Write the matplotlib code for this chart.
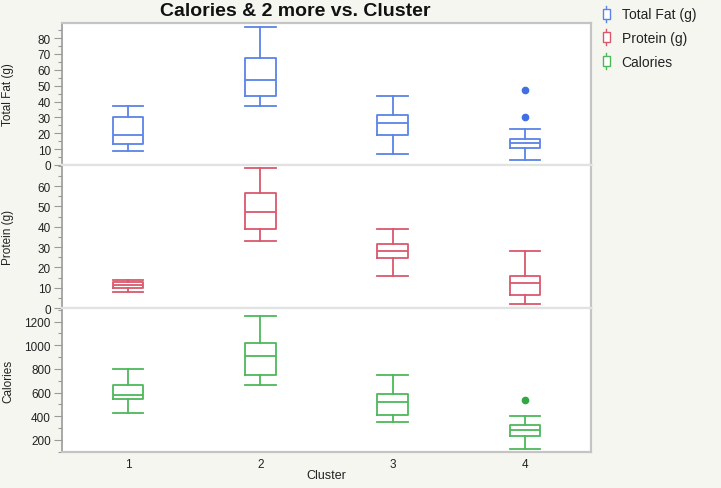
import matplotlib
matplotlib.use("Agg")
import matplotlib.pyplot as plt
from matplotlib.lines import Line2D
from matplotlib.patches import Rectangle
from matplotlib.legend_handler import HandlerBase
from matplotlib.ticker import MultipleLocator

plt.rcParams['font.family'] = ['Liberation Sans', 'DejaVu Sans']

clusters = [1, 2, 3, 4]

# five-number summaries: low whisker, q1, median, q3, high whisker
fat_low = [8.8, 36.9, 6.9, 3.4]
fat_q1 = [13.0, 43.8, 18.8, 11.0]
fat_med = [18.8, 53.7, 26.5, 14.1]
fat_q3 = [30.5, 67.5, 31.2, 16.7]
fat_high = [37.5, 87.0, 43.8, 23.0]
fat_out = [[], [], [], [47.3, 30.1]]

prot_low = [7.8, 33.0, 15.6, 2.0]
prot_q1 = [9.7, 38.9, 24.8, 6.4]
prot_med = [11.5, 47.1, 28.1, 12.3]
prot_q3 = [13.0, 56.8, 31.4, 15.6]
prot_high = [13.9, 68.8, 38.9, 28.1]
prot_out = [[], [], [], []]

cal_low = [424, 666, 347, 124]
cal_q1 = [545, 751, 412, 229]
cal_med = [581, 909, 517, 282]
cal_q3 = [664, 1022, 590, 327]
cal_high = [797, 1248, 751, 403]
cal_out = [[], [], [], [534]]

names = ["Total Fat (g)", "Protein (g)", "Calories"]
colors = ["#5b84e6", "#d9586c", "#4db85a"]
dot_colors = ["#3f6fe0", "#d9586c", "#2fa844"]


def stats(lo, q1, med, q3, hi, out):
    return [dict(whislo=a, q1=b, med=c, q3=d, whishi=e, fliers=f)
            for a, b, c, d, e, f in zip(lo, q1, med, q3, hi, out)]


# stats, y-limits, labelled ticks, minor step
panels = [
    (stats(fat_low, fat_q1, fat_med, fat_q3, fat_high, fat_out), (0, 89.5), range(0, 90, 10), 5),
    (stats(prot_low, prot_q1, prot_med, prot_q3, prot_high, prot_out), (0, 70.4), range(0, 70, 10), 5),
    (stats(cal_low, cal_q1, cal_med, cal_q3, cal_high, cal_out), (96, 1316), range(200, 1300, 200), 100),
]

W, H = 721, 489
fig = plt.figure(figsize=(W / 100, H / 100), dpi=100, facecolor="#f6f6f1")

left, right = 62, 591
edges = [24, 166, 309, 453]
for i, (st, ylim, major, minor) in enumerate(panels):
    top, bot = edges[i], edges[i + 1]
    ax = fig.add_axes([left / W, 1 - bot / H, (right - left) / W, (bot - top) / H])
    c = colors[i]
    ax.bxp(st, positions=clusters, widths=0.23, capwidths=0.23, showfliers=True,
           boxprops=dict(color=c, lw=1.3),
           whiskerprops=dict(color=c, lw=1.3),
           capprops=dict(color=c, lw=1.3),
           medianprops=dict(color=c, lw=1.3),
           flierprops=dict(marker="o", markersize=4.5, markerfacecolor=dot_colors[i],
                           markeredgecolor=dot_colors[i], linestyle="none"))
    ax.set_xlim(0.5, 4.5)
    ax.set_ylim(*ylim)
    ax.set_yticks(list(major))
    ax.yaxis.set_minor_locator(MultipleLocator(minor))
    ax.tick_params(axis="y", which="major", length=6, width=0.8, color="#9a9a9a",
                   labelsize=8.5, labelcolor="#222222", pad=2)
    ax.tick_params(axis="y", which="minor", length=3, width=0.8, color="#9a9a9a")
    for s in ["top", "right", "bottom"]:
        ax.spines[s].set_color("#e2e2e2")
        ax.spines[s].set_linewidth(1.6)
    ax.spines["right"].set_color("#c4c4c4")
    ax.spines["left"].set_color("#9a9a9a")
    ax.spines["left"].set_linewidth(1.2)
    if i == 0:
        ax.spines["top"].set_color("#c4c4c4")
    if i < 2:
        ax.set_xticks([])
    else:
        ax.set_xticks(clusters)
        ax.tick_params(axis="x", length=0, labelsize=8.5, labelcolor="#222222", pad=4)
        ax.spines["bottom"].set_color("#c4c4c4")
    fig.text(8 / W, 1 - (top + bot) / 2 / H, names[i], rotation=90,
             ha="center", va="center", fontsize=8.5, color="#222222")

fig.text(326 / W, 1 - 476 / H, "Cluster", ha="center", va="center",
         fontsize=9, color="#222222")
fig.text(295 / W, 1 - 12 / H, "Calories & 2 more vs. Cluster", ha="center",
         va="center", fontsize=14, fontweight="bold", color="#111111")


class BoxGlyph(HandlerBase):
    # small box-and-whisker sign, sizes in points
    def create_artists(self, legend, orig, xd, yd, w, h, fs, trans):
        c = orig.get_color()
        cx = xd + w / 2
        cy = yd + h / 2
        ln = Line2D([cx, cx], [cy - 5.8, cy + 5.8], color=c, lw=1, transform=trans)
        r = Rectangle((cx - 2.2, cy - 3.6), 4.4, 7.2, facecolor="white",
                      edgecolor=c, lw=1, transform=trans)
        return [ln, r]


handles = [Line2D([], [], color=c) for c in colors]
fig.legend(handles, names, handler_map={Line2D: BoxGlyph()},
           loc="upper left", bbox_to_anchor=(587 / W, 1 + 4 / H),
           frameon=False, fontsize=10, handlelength=1.0, handletextpad=0.6,
           labelspacing=0.7, labelcolor="#222222")

fig.savefig("out.png", dpi=100, facecolor=fig.get_facecolor())
